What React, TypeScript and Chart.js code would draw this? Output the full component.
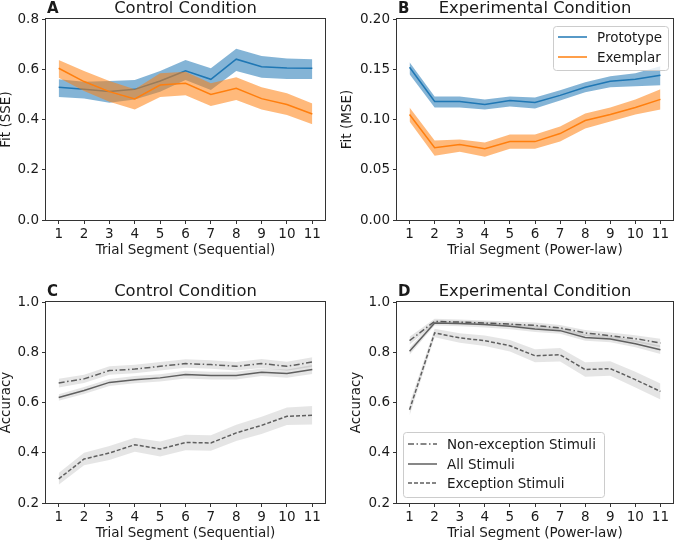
import React, { useEffect, useRef } from "react";
import { Chart, registerables } from "chart.js";

Chart.register(...registerables);

// ---------- data ----------
const segments = [1, 2, 3, 4, 5, 6, 7, 8, 9, 10, 11];

const fitTicksSSE = [0.0, 0.2, 0.4, 0.6, 0.8];
const fitTicksMSE = [0.0, 0.05, 0.1, 0.15, 0.2];
const accTicks = [0.2, 0.4, 0.6, 0.8, 1.0];

// Panel A – Control, Fit (SSE)
const aPrototype = [0.528, 0.52, 0.511, 0.52, 0.553, 0.594, 0.56, 0.64, 0.61, 0.605, 0.604];
const aPrototypeLow = [0.49, 0.484, 0.467, 0.48, 0.51, 0.557, 0.517, 0.593, 0.566, 0.561, 0.561];
const aPrototypeHigh = [0.56, 0.55, 0.553, 0.557, 0.593, 0.637, 0.604, 0.682, 0.653, 0.643, 0.64];
const aExemplar = [0.604, 0.551, 0.511, 0.482, 0.537, 0.544, 0.5, 0.524, 0.483, 0.46, 0.422];
const aExemplarLow = [0.566, 0.513, 0.471, 0.44, 0.49, 0.497, 0.454, 0.478, 0.44, 0.418, 0.381];
const aExemplarHigh = [0.637, 0.593, 0.553, 0.52, 0.584, 0.59, 0.544, 0.568, 0.528, 0.504, 0.464];

// Panel B – Experimental, Fit (MSE)
const bPrototype = [0.152, 0.118, 0.118, 0.115, 0.119, 0.117, 0.124, 0.132, 0.138, 0.14, 0.144];
const bPrototypeLow = [0.145, 0.112, 0.112, 0.11, 0.113, 0.111, 0.119, 0.127, 0.132, 0.133, 0.134];
const bPrototypeHigh = [0.157, 0.123, 0.123, 0.12, 0.123, 0.122, 0.129, 0.137, 0.143, 0.146, 0.153];
const bExemplar = [0.105, 0.072, 0.075, 0.071, 0.078, 0.078, 0.086, 0.099, 0.105, 0.112, 0.12];
const bExemplarLow = [0.098, 0.064, 0.068, 0.063, 0.071, 0.071, 0.078, 0.091, 0.098, 0.105, 0.11];
const bExemplarHigh = [0.112, 0.079, 0.08, 0.077, 0.085, 0.085, 0.093, 0.106, 0.112, 0.12, 0.13];

// Panel C – Control, Accuracy
const cNonException = [0.678, 0.694, 0.727, 0.733, 0.744, 0.755, 0.751, 0.744, 0.755, 0.744, 0.761];
const cNonExceptionLow = [0.66, 0.678, 0.71, 0.716, 0.727, 0.738, 0.734, 0.727, 0.737, 0.726, 0.742];
const cNonExceptionHigh = [0.695, 0.71, 0.744, 0.75, 0.761, 0.772, 0.768, 0.761, 0.773, 0.762, 0.78];
const cAll = [0.62, 0.648, 0.68, 0.691, 0.698, 0.711, 0.707, 0.707, 0.72, 0.715, 0.731];
const cAllLow = [0.607, 0.634, 0.666, 0.677, 0.684, 0.696, 0.692, 0.692, 0.705, 0.699, 0.713];
const cAllHigh = [0.633, 0.662, 0.694, 0.705, 0.712, 0.726, 0.722, 0.722, 0.735, 0.731, 0.749];
const cException = [0.296, 0.375, 0.399, 0.432, 0.415, 0.441, 0.439, 0.479, 0.509, 0.545, 0.549];
const cExceptionLow = [0.273, 0.35, 0.371, 0.404, 0.385, 0.41, 0.408, 0.447, 0.475, 0.51, 0.512];
const cExceptionHigh = [0.319, 0.4, 0.427, 0.46, 0.445, 0.472, 0.47, 0.511, 0.543, 0.58, 0.586];

// Panel D – Experimental, Accuracy
const dNonException = [0.846, 0.923, 0.92, 0.916, 0.912, 0.907, 0.897, 0.877, 0.866, 0.854, 0.837];
const dNonExceptionLow = [0.83, 0.913, 0.91, 0.906, 0.902, 0.896, 0.886, 0.865, 0.853, 0.84, 0.82];
const dNonExceptionHigh = [0.862, 0.933, 0.93, 0.926, 0.922, 0.918, 0.908, 0.889, 0.879, 0.868, 0.854];
const dAll = [0.804, 0.916, 0.914, 0.91, 0.903, 0.893, 0.886, 0.859, 0.853, 0.834, 0.81];
const dAllLow = [0.79, 0.906, 0.903, 0.899, 0.892, 0.881, 0.874, 0.846, 0.84, 0.82, 0.793];
const dAllHigh = [0.818, 0.926, 0.925, 0.921, 0.914, 0.905, 0.898, 0.872, 0.866, 0.848, 0.827];
const dException = [0.571, 0.877, 0.857, 0.846, 0.826, 0.786, 0.79, 0.731, 0.735, 0.691, 0.644];
const dExceptionLow = [0.548, 0.86, 0.838, 0.825, 0.803, 0.76, 0.763, 0.702, 0.706, 0.66, 0.612];
const dExceptionHigh = [0.596, 0.894, 0.876, 0.867, 0.849, 0.812, 0.817, 0.76, 0.764, 0.722, 0.676];

// ---------- styles ----------
const FONT = "'DejaVu Sans', sans-serif";
const TEXT = "#1a1a1a";
const BLUE = "#1f77b4";
const ORANGE = "#ff7f0e";
const BLUE_BAND = "rgba(31,119,180,0.55)";
const ORANGE_BAND = "rgba(255,127,14,0.55)";
const GRAY = "#5f5f5f";
const GRAY_BAND = "rgba(0,0,0,0.1)";
const DASHDOT = [6, 2.5, 1.5, 2.5];
const DASHED = [4, 2];

type Series = {
  label: string;
  color: string;
  band: string;
  dash: number[];
  mean: number[];
  low: number[];
  high: number[];
};

type Panel = {
  key: string;
  letter: string;
  title: string;
  xTitle: string;
  yTitle: string;
  yTicks: number[];
  decimals: number;
  series: Series[];
  legendOrder: number[];
  legend: null | { corner: "tr" | "bl"; w: number; h: number; dx: number; dy: number; rows: number[] };
  left: number;
  top: number;
  width: number;
  height: number;
  yAxisWidth: number;
  xAxisHeight: number;
  padTop: number;
  padRight: number;
  yTitlePad: number;
  xTitlePad: number;
};

const fitSeries = (p: number[], pl: number[], ph: number[], e: number[], el: number[], eh: number[]): Series[] => [
  { label: "Prototype", color: BLUE, band: BLUE_BAND, dash: [], mean: p, low: pl, high: ph },
  { label: "Exemplar", color: ORANGE, band: ORANGE_BAND, dash: [], mean: e, low: el, high: eh },
];

const accSeries = (
  n: number[], nl: number[], nh: number[],
  a: number[], al: number[], ah: number[],
  x: number[], xl: number[], xh: number[]
): Series[] => [
  { label: "Non-exception Stimuli", color: GRAY, band: GRAY_BAND, dash: DASHDOT, mean: n, low: nl, high: nh },
  { label: "All Stimuli", color: GRAY, band: GRAY_BAND, dash: [], mean: a, low: al, high: ah },
  { label: "Exception Stimuli", color: GRAY, band: GRAY_BAND, dash: DASHED, mean: x, low: xl, high: xh },
];

const panels: Panel[] = [
  {
    key: "A", letter: "A", title: "Control Condition", xTitle: "Trial Segment (Sequential)", yTitle: "Fit (SSE)",
    yTicks: fitTicksSSE, decimals: 1,
    series: fitSeries(aPrototype, aPrototypeLow, aPrototypeHigh, aExemplar, aExemplarLow, aExemplarHigh),
    legendOrder: [], legend: null,
    left: 0, top: 0, width: 338, height: 270, yAxisWidth: 46, xAxisHeight: 50, padTop: 19, padRight: 13,
    yTitlePad: 0, xTitlePad: 12.5,
  },
  {
    key: "B", letter: "B", title: "Experimental Condition", xTitle: "Trial Segment (Power-law)", yTitle: "Fit (MSE)",
    yTicks: fitTicksMSE, decimals: 2,
    series: fitSeries(bPrototype, bPrototypeLow, bPrototypeHigh, bExemplar, bExemplarLow, bExemplarHigh),
    legendOrder: [0, 1], legend: { corner: "tr", w: 115, h: 44, dx: 5, dy: 7, rows: [11, 31] },
    left: 338, top: 0, width: 339, height: 270, yAxisWidth: 59, xAxisHeight: 50, padTop: 19, padRight: 4,
    yTitlePad: 3, xTitlePad: 12.5,
  },
  {
    key: "C", letter: "C", title: "Control Condition", xTitle: "Trial Segment (Sequential)", yTitle: "Accuracy",
    yTicks: accTicks, decimals: 1,
    series: accSeries(cNonException, cNonExceptionLow, cNonExceptionHigh, cAll, cAllLow, cAllHigh, cException, cExceptionLow, cExceptionHigh),
    legendOrder: [], legend: null,
    left: 0, top: 270, width: 338, height: 272, yAxisWidth: 46, xAxisHeight: 39, padTop: 32, padRight: 13,
    yTitlePad: 0, xTitlePad: 2,
  },
  {
    key: "D", letter: "D", title: "Experimental Condition", xTitle: "Trial Segment (Power-law)", yTitle: "Accuracy",
    yTicks: accTicks, decimals: 1,
    series: accSeries(dNonException, dNonExceptionLow, dNonExceptionHigh, dAll, dAllLow, dAllHigh, dException, dExceptionLow, dExceptionHigh),
    legendOrder: [0, 1, 2], legend: { corner: "bl", w: 201, h: 65, dx: 6, dy: 6, rows: [12, 32, 51] },
    left: 338, top: 270, width: 339, height: 272, yAxisWidth: 59, xAxisHeight: 39, padTop: 32, padRight: 4,
    yTitlePad: 12, xTitlePad: 2,
  },
];

function roundRect(ctx: CanvasRenderingContext2D, x: number, y: number, w: number, h: number, r: number) {
  ctx.beginPath();
  ctx.moveTo(x + r, y);
  ctx.lineTo(x + w - r, y);
  ctx.arcTo(x + w, y, x + w, y + r, r);
  ctx.lineTo(x + w, y + h - r);
  ctx.arcTo(x + w, y + h, x + w - r, y + h, r);
  ctx.lineTo(x + r, y + h);
  ctx.arcTo(x, y + h, x, y + h - r, r);
  ctx.lineTo(x, y + r);
  ctx.arcTo(x, y, x + r, y, r);
  ctx.closePath();
}

function buildConfig(p: Panel): any {
  const datasets: any[] = [];
  p.series.forEach((s) => {
    datasets.push({
      label: s.label + " low",
      data: segments.map((x, j) => ({ x, y: s.low[j] })),
      borderWidth: 0,
      borderColor: "rgba(0,0,0,0)",
      pointRadius: 0,
      fill: false,
    });
    datasets.push({
      label: s.label + " high",
      data: segments.map((x, j) => ({ x, y: s.high[j] })),
      borderWidth: 0,
      borderColor: "rgba(0,0,0,0)",
      backgroundColor: s.band,
      pointRadius: 0,
      fill: "-1",
    });
    datasets.push({
      label: s.label,
      data: segments.map((x, j) => ({ x, y: s.mean[j] })),
      borderColor: s.color,
      borderWidth: 1.5,
      borderDash: s.dash,
      pointRadius: 0,
      fill: false,
      tension: 0,
    });
  });
  datasets.forEach((d, k) => (d.order = datasets.length - k));

  const decor = {
    id: "decor" + p.key,
    afterDraw(chart: any) {
      const ctx: CanvasRenderingContext2D = chart.ctx;
      const { left, right, top, bottom } = chart.chartArea;
      ctx.save();
      // frame
      ctx.strokeStyle = "#333";
      ctx.lineWidth = 1;
      ctx.setLineDash([]);
      ctx.strokeRect(Math.round(left) - 0.5, Math.round(top) - 0.5, Math.round(right - left) + 1, Math.round(bottom - top) + 1);
      // letter & title
      ctx.fillStyle = TEXT;
      ctx.textBaseline = "alphabetic";
      ctx.textAlign = "left";
      ctx.font = `bold 15px ${FONT}`;
      ctx.fillText(p.letter, left + 1, top - 6);
      ctx.textAlign = "center";
      ctx.font = `16.4px ${FONT}`;
      ctx.fillText(p.title, (left + right) / 2, top - 6);
      // legend
      if (p.legend) {
        const L = p.legend;
        const bx = L.corner === "tr" ? right - L.dx - L.w : left + L.dx;
        const by = L.corner === "tr" ? top + L.dy : bottom - L.dy - L.h;
        roundRect(ctx, bx + 0.5, by + 0.5, L.w, L.h, 3);
        ctx.fillStyle = "rgba(255,255,255,0.8)";
        ctx.fill();
        ctx.strokeStyle = "#cccccc";
        ctx.lineWidth = 1;
        ctx.stroke();
        ctx.font = `13.5px ${FONT}`;
        ctx.textAlign = "left";
        ctx.textBaseline = "middle";
        p.legendOrder.forEach((si, r) => {
          const s = p.series[si];
          const y = by + L.rows[r];
          ctx.beginPath();
          ctx.strokeStyle = s.color;
          ctx.lineWidth = 1.5;
          ctx.setLineDash(s.dash);
          ctx.moveTo(bx + 5, y);
          ctx.lineTo(bx + 34, y);
          ctx.stroke();
          ctx.setLineDash([]);
          ctx.fillStyle = TEXT;
          ctx.fillText(s.label, bx + 44, y + 1);
        });
      }
      ctx.restore();
    },
  };

  return {
    type: "line",
    data: { datasets },
    options: {
      responsive: false,
      animation: false,
      devicePixelRatio: 1,
      layout: { padding: { top: p.padTop, right: p.padRight, left: 0, bottom: 0 } },
      plugins: { legend: { display: false }, tooltip: { enabled: false }, title: { display: false } },
      scales: {
        x: {
          type: "linear",
          min: 0.5,
          max: 11.5,
          afterBuildTicks: (scale: any) => {
            scale.ticks = segments.map((v) => ({ value: v }));
          },
          afterFit: (scale: any) => {
            scale.height = p.xAxisHeight;
          },
          grid: { drawOnChartArea: false, drawTicks: true, tickLength: 4, tickColor: "#333" },
          border: { display: false },
          ticks: {
            autoSkip: false,
            maxRotation: 0,
            padding: 2,
            color: TEXT,
            font: { family: FONT, size: 13.5 },
            callback: (v: any) => String(v),
          },
          title: {
            display: true,
            text: p.xTitle,
            color: TEXT,
            font: { family: FONT, size: 13.5, lineHeight: 1 },
            padding: { top: 0, bottom: p.xTitlePad },
          },
        },
        y: {
          type: "linear",
          min: p.yTicks[0],
          max: p.yTicks[p.yTicks.length - 1],
          afterBuildTicks: (scale: any) => {
            scale.ticks = p.yTicks.map((v) => ({ value: v }));
          },
          afterFit: (scale: any) => {
            scale.width = p.yAxisWidth;
          },
          grid: { drawOnChartArea: false, drawTicks: true, tickLength: 4, tickColor: "#333" },
          border: { display: false },
          ticks: {
            padding: 3,
            color: TEXT,
            font: { family: FONT, size: 13.5 },
            callback: (v: any) => Number(v).toFixed(p.decimals),
          },
          title: {
            display: true,
            text: p.yTitle,
            color: TEXT,
            font: { family: FONT, size: 13.5, lineHeight: 1 },
            padding: { top: p.yTitlePad, bottom: 0 },
          },
        },
      },
    },
    plugins: [decor],
  };
}

function PanelChart({ p }: { p: Panel }) {
  const ref = useRef<HTMLCanvasElement | null>(null);
  useEffect(() => {
    if (!ref.current) return;
    const chart = new Chart(ref.current, buildConfig(p));
    return () => chart.destroy();
  }, [p]);
  return (
    <canvas
      ref={ref}
      width={p.width}
      height={p.height}
      style={{ position: "absolute", left: p.left, top: p.top, width: p.width, height: p.height }}
    />
  );
}

export default function App() {
  return (
    <div style={{ position: "absolute", left: 0, top: 0, width: 677, height: 542, background: "#fff", overflow: "hidden" }}>
      {panels.map((p) => (
        <PanelChart key={p.key} p={p} />
      ))}
    </div>
  );
}
